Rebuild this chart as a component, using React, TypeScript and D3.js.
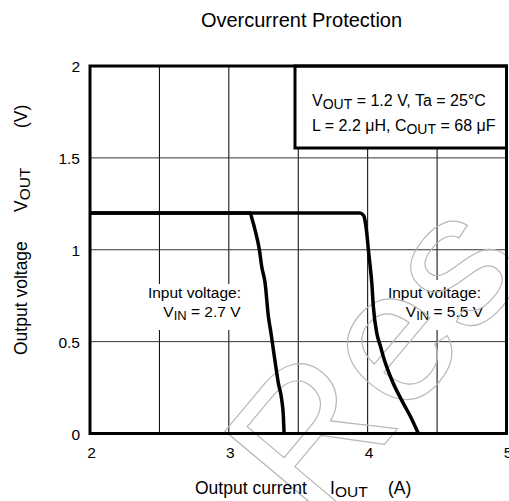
import React from "react";
import * as d3 from "d3";

// ---- data ----
const xTicks = [2, 3, 4, 5];
const xGrid = [2.5, 3, 3.5, 4, 4.5];
const yTicks = [0, 0.5, 1, 1.5, 2];
const yTickLabels = ["0", "0.5", "1", "1.5", "2"];
const yGrid = [0.5, 1, 1.5];

// Input voltage VIN = 2.7 V
const current27 = [2, 3.153, 3.17, 3.189, 3.22, 3.237, 3.261, 3.285, 3.303, 3.321, 3.357, 3.381, 3.393, 3.398];
const voltage27 = [1.2, 1.2, 1.16, 1.107, 1.0, 0.908, 0.82, 0.636, 0.55, 0.455, 0.273, 0.183, 0.091, 0];

// Input voltage VIN = 5.5 V
const current55 = [2, 3.945, 3.972, 3.983, 3.995, 4.005, 4.018, 4.03, 4.041, 4.066, 4.09, 4.113, 4.174, 4.257, 4.31, 4.365];
const voltage55 = [1.2, 1.2, 1.185, 1.15, 1.08, 1.0, 0.91, 0.817, 0.69, 0.545, 0.48, 0.418, 0.291, 0.164, 0.09, 0];

const W = 509;
const H = 501;
const PL = 90, PR = 506.5, PT = 66, PB = 433.5;
const FONT = "'Liberation Sans', Arial, Helvetica, sans-serif";

export default function App() {
  const x = d3.scaleLinear().domain([2, 5]).range([PL, PR]);
  const y = d3.scaleLinear().domain([0, 2]).range([PB, PT]);
  const line = d3
    .line<[number, number]>()
    .x((d) => x(d[0]))
    .y((d) => y(d[1]))
    .curve(d3.curveMonotoneX);
  const s27 = current27.map((c, i) => [c, voltage27[i]] as [number, number]);
  const s55 = current55.map((c, i) => [c, voltage55[i]] as [number, number]);

  return (
    <svg
      width={W}
      height={H}
      style={{ position: "absolute", left: 0, top: 0, background: "#fff" }}
      fontFamily={FONT}
    >
      <rect x={0} y={0} width={W} height={H} fill="#fff" />
      {/* title */}
      <text x={301.5} y={26.5} fontSize={20} textAnchor="middle" fill="#000">
        Overcurrent Protection
      </text>

      {/* grid */}
      {xGrid.map((g) => (
        <line key={"xg" + g} x1={x(g)} x2={x(g)} y1={PT} y2={PB} stroke="#000" strokeWidth={1} />
      ))}
      {yGrid.map((g) => (
        <line key={"yg" + g} x1={PL} x2={PR} y1={y(g)} y2={y(g)} stroke="#333" strokeWidth={1} />
      ))}

      {/* tick labels */}
      {xTicks.map((t) => (
        <text key={"xt" + t} x={x(t) + 1.5} y={458} fontSize={15.5} textAnchor="middle" fill="#000">
          {t}
        </text>
      ))}
      {yTicks.map((t, i) => (
        <text key={"yt" + t} x={80} y={y(t) + 6} fontSize={15.5} textAnchor="end" fill="#000">
          {yTickLabels[i]}
        </text>
      ))}

      {/* annotations with white backgrounds */}
      <rect x={147} y={284} width={98} height={46} fill="#fff" />
      <text x={241} y={297.5} fontSize={15.5} textAnchor="end" fill="#000">
        Input voltage:
      </text>
      <text x={240.5} y={317} fontSize={15.5} textAnchor="end" fill="#000">
        <tspan>V</tspan>
        <tspan fontSize={13} dy={2.5}>IN</tspan>
        <tspan dy={-2.5}> = 2.7 V</tspan>
      </text>

      <rect x={384} y={280} width={102} height={50} fill="#fff" />
      <text x={481} y={297.5} fontSize={15.5} textAnchor="end" fill="#000">
        Input voltage:
      </text>
      <text x={483} y={317} fontSize={15.5} textAnchor="end" fill="#000">
        <tspan>V</tspan>
        <tspan fontSize={13} dy={2.5}>IN</tspan>
        <tspan dy={-2.5}> = 5.5 V</tspan>
      </text>

      {/* watermark */}
      <text
        transform="translate(315,527) rotate(-50)"
        fontSize={190}
        fill="none"
        stroke="#b8b8b8"
        strokeWidth={1.2}
      >
        Res
      </text>

      {/* curves */}
      <path d={line(s27) || ""} fill="none" stroke="#000" strokeWidth={3.5} strokeLinejoin="round" />
      <path d={line(s55) || ""} fill="none" stroke="#000" strokeWidth={3.5} strokeLinejoin="round" />

      {/* legend box */}
      <rect x={295} y={PT} width={PR - 295} height={148 - PT} fill="#fff" stroke="#000" strokeWidth={3} />
      <text x={312} y={106} fontSize={16} fill="#000">
        <tspan>V</tspan>
        <tspan fontSize={14} dy={2.5}>OUT</tspan>
        <tspan dy={-2.5}> = 1.2 V, Ta = 25°C</tspan>
      </text>
      <text x={312} y={131} fontSize={16} fill="#000">
        <tspan>L = 2.2 μH, C</tspan>
        <tspan fontSize={14} dy={2.5}>OUT</tspan>
        <tspan dy={-2.5}> = 68 μF</tspan>
      </text>

      {/* frame */}
      <rect x={PL} y={PT} width={PR - PL} height={PB - PT} fill="none" stroke="#000" strokeWidth={3} />

      {/* axis titles */}
      <text x={195} y={494} fontSize={17.5} fill="#000">
        Output current
      </text>
      <text x={330} y={494} fontSize={17.5} fill="#000">
        <tspan>I</tspan>
        <tspan fontSize={15.5} dy={3}>OUT</tspan>
      </text>
      <text x={388} y={494} fontSize={17.5} fill="#000">
        (A)
      </text>

      <text transform="translate(26.5,355) rotate(-90)" fontSize={17.5} fill="#000">
        Output voltage
      </text>
      <text transform="translate(26.5,212) rotate(-90)" fontSize={17.5} fill="#000">
        <tspan>V</tspan>
        <tspan fontSize={15.5} dy={3}>OUT</tspan>
      </text>
      <text transform="translate(26.5,128) rotate(-90)" fontSize={17.5} fill="#000">
        (V)
      </text>
    </svg>
  );
}
